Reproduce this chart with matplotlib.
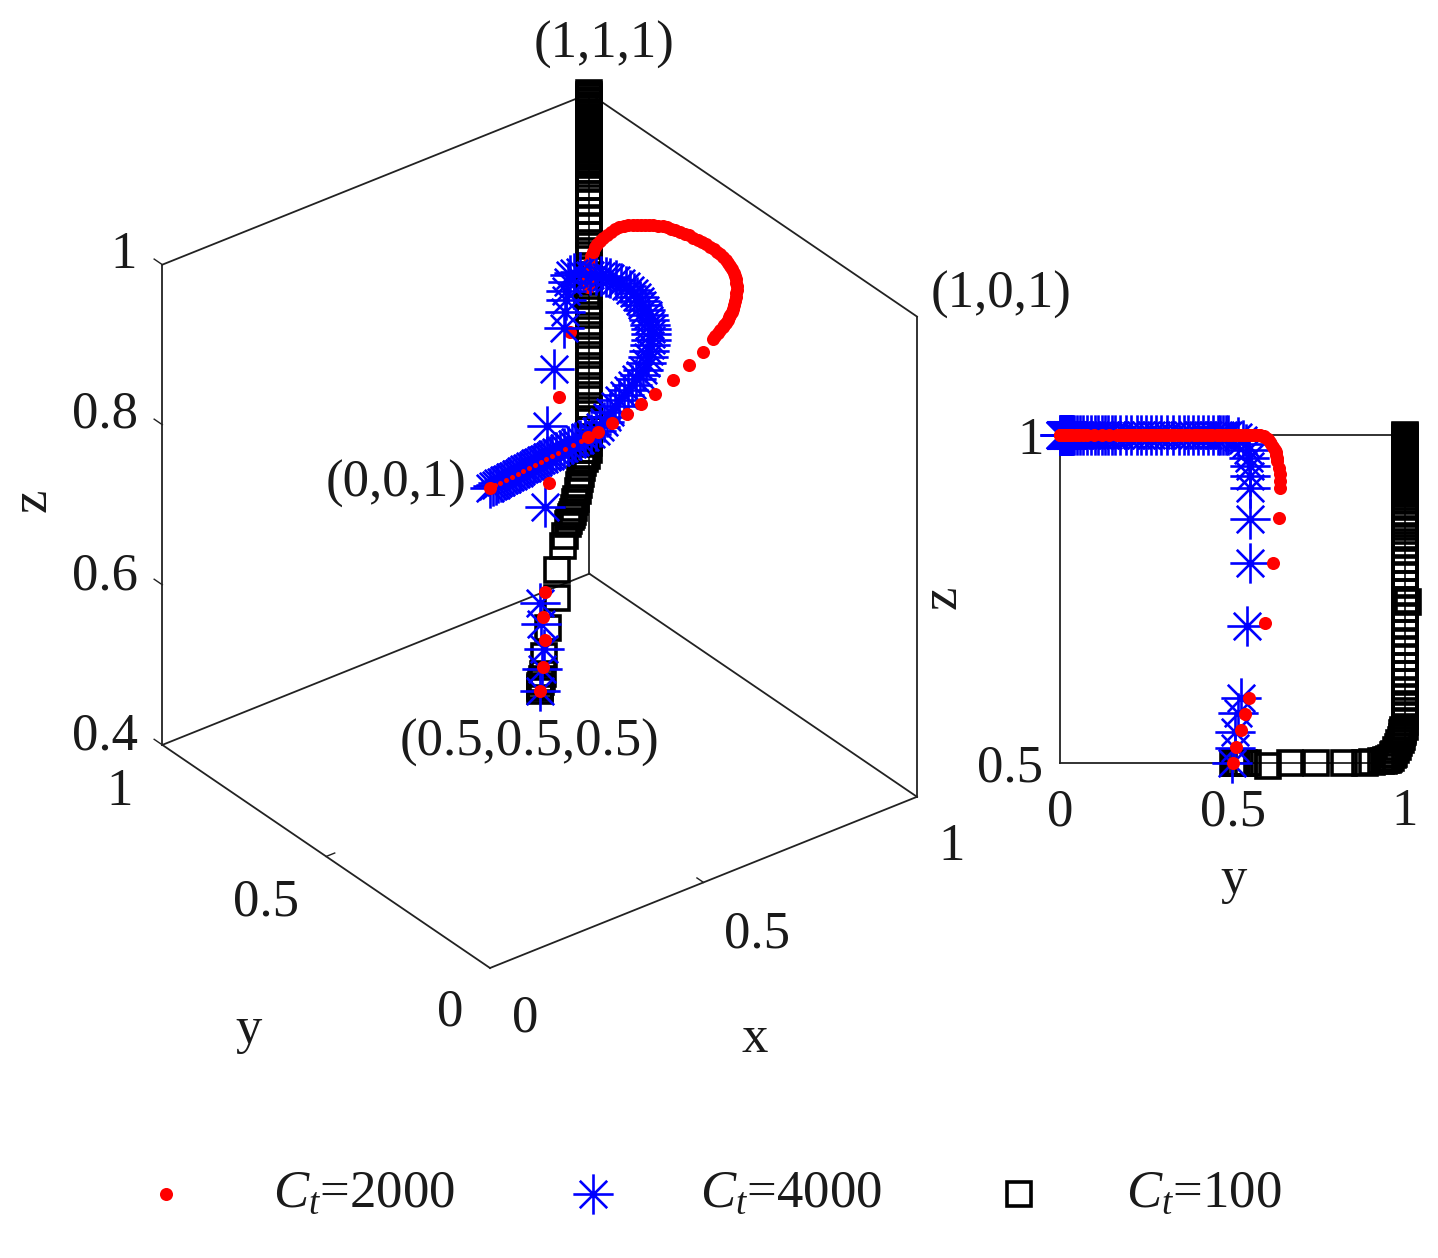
import matplotlib
matplotlib.use("Agg")
import matplotlib.pyplot as plt
from matplotlib.path import Path

from mpl_toolkits.mplot3d import proj3d

plt.rcParams['font.family'] = ['Liberation Serif', 'DejaVu Serif']
plt.rcParams['mathtext.fontset'] = 'custom'
plt.rcParams['mathtext.rm'] = 'Liberation Serif'
plt.rcParams['mathtext.it'] = 'Liberation Serif:italic'

W, H = 1438, 1258
FS = 38

# (x, y, z) read from the two views
red_xyz = [
    (.500,.500,.500),(.515,.510,.524),(.532,.525,.550),(.535,.536,.575),(.550,.548,.599),
    (.595,.594,.713),(.636,.617,.805),(.675,.635,.873),(.720,.638,.919),(.718,.638,.930),
    (.718,.637,.940),(.719,.635,.950),(.720,.630,.960),(.724,.628,.965),(.727,.627,.970),
    (.731,.625,.974),(.735,.623,.977),(.740,.618,.982),(.745,.613,.986),(.750,.608,.990),
    (.755,.603,.994),(.761,.598,.996),(.768,.592,.998),(.774,.586,.999),(.780,.580,1.0),
    (.786,.576,1.0),(.792,.572,1.0),(.798,.567,1.0),(.803,.562,1.0),(.809,.556,1.0),
    (.815,.549,1.0),(.820,.542,1.0),(.825,.534,1.0),(.828,.526,1.0),(.831,.517,1.0),
    (.834,.507,1.0),(.837,.497,1.0),(.839,.487,1.0),(.841,.476,1.0),(.843,.465,1.0),
    (.844,.454,1.0),(.845,.442,1.0),(.846,.431,1.0),(.846,.420,1.0),(.846,.409,1.0),
    (.844,.398,1.0),(.842,.387,1.0),(.840,.375,1.0),(.837,.364,1.0),(.834,.353,1.0),
    (.830,.342,1.0),(.825,.331,1.0),(.820,.321,1.0),(.814,.310,1.0),(.807,.300,1.0),
    (.800,.290,1.0),(.793,.280,1.0),(.784,.270,1.0),(.775,.260,1.0),(.766,.250,1.0),
    (.756,.240,1.0),(.746,.230,1.0),(.736,.221,1.0),(.728,.215,1.0),(.721,.210,1.0),
    (.713,.204,1.0),(.705,.199,1.0),(.698,.194,1.0),(.690,.189,1.0),(.680,.184,1.0),
    (.670,.178,1.0),(.660,.172,1.0),(.650,.166,1.0),(.609,.143,1.0),(.560,.122,1.0),
    (.504,.098,1.0),(.447,.079,1.0),(.405,.066,1.0),(.362,.054,1.0),(.321,.045,1.0),
    (.280,.036,1.0),(.255,.033,1.0),
]
red_tail_xyz = [
    (.235,.030,1.0),(.215,.027,1.0),(.195,.024,1.0),(.175,.021,1.0),(.160,.019,1.0),
    (.145,.017,1.0),(.130,.015,1.0),(.115,.013,1.0),(.100,.011,1.0),(.085,.009,1.0),
    (.070,.007,1.0),(.055,.005,1.0),(.040,.003,1.0),(.025,.002,1.0),(.012,.001,1.0),
]
red_end_xyz = [(0.0,0.0,1.0)]

blue_xyz = [
    (.500,.499,.500),(.510,.507,.523),(.515,.507,.547),(.515,.516,.576),(.520,.525,.599),
    (.544,.542,.709),(.556,.551,.805),(.573,.551,.872),(.596,.551,.919),(.598,.551,.9375),
    (.600,.551,.953),(.600,.549,.965),(.600,.545,.977),(.602,.540,.986),(.604,.530,.992),
    (.606,.515,.997),(.609,.488,1.0),(.616,.480,1.0),(.622,.472,1.0),(.628,.465,1.0),
    (.632,.457,1.0),(.635,.444,1.0),(.636,.430,1.0),(.636,.415,1.0),(.635,.401,1.0),
    (.633,.386,1.0),(.630,.372,1.0),(.626,.358,1.0),(.621,.344,1.0),(.615,.327,1.0),
    (.607,.310,1.0),(.598,.294,1.0),(.589,.279,1.0),(.580,.265,1.0),(.570,.250,1.0),
    (.558,.236,1.0),(.546,.223,1.0),(.531,.206,1.0),(.516,.190,1.0),(.499,.175,1.0),
    (.482,.160,1.0),(.466,.150,1.0),(.450,.140,1.0),(.433,.130,1.0),(.415,.121,1.0),
    (.398,.110,1.0),(.380,.100,1.0),(.361,.089,1.0),(.342,.078,1.0),(.326,.067,1.0),
    (.310,.057,1.0),(.295,.048,1.0),(.280,.040,1.0),(.265,.038,1.0),(.250,.036,1.0),
    (.237,.034,1.0),(.225,.033,1.0),(.215,.031,1.0),(.205,.030,1.0),(.195,.029,1.0),
    (.185,.028,1.0),(.175,.026,1.0),(.165,.025,1.0),(.157,.023,1.0),(.150,.022,1.0),
    (.142,.021,1.0),(.135,.020,1.0),(.127,.019,1.0),(.120,.018,1.0),(.112,.016,1.0),
    (.105,.015,1.0),(.097,.014,1.0),(.090,.013,1.0),(.082,.011,1.0),(.075,.010,1.0),
    (.067,.009,1.0),(.060,.008,1.0),(.052,.007,1.0),(.045,.006,1.0),(.037,.005,1.0),
    (.030,.004,1.0),(.022,.003,1.0),(.015,.002,1.0),(.007,.001,1.0),(0.0,0.0,1.0),
]

black_xyz = [
    (.500,.500,.500),(.505,.507,.500),(.512,.514,.500),(.520,.522,.500),(.530,.532,.500),
    (.542,.545,.500),(.590,.604,.495),(.649,.668,.500),(.727,.743,.500),(.788,.822,.500),
    (.849,.883,.500),(.869,.903,.502),(.897,.931,.503),(.905,.938,.503),(.915,.945,.504),
    (.920,.950,.505),(.925,.953,.506),(.933,.960,.508),(.940,.965,.512),(.945,.968,.514),
    (.955,.975,.520),(.960,.980,.525),(.965,.983,.530),(.970,.987,.535),(.975,.990,.540),
    (.980,.992,.545),(.985,.994,.548),(.990,.995,.550),
    (1.0,1.0,.555),(1.0,1.0,.563),(1.0,1.0,.571),(1.0,1.0,.580),(1.0,1.0,.590),
    (1.0,1.0,.600),(1.0,1.0,.610),(1.0,1.0,.623),(1.0,1.0,.635),(1.0,1.0,.648),
    (1.0,1.0,.660),(1.0,1.0,.673),(1.0,1.0,.685),(1.0,1.0,.698),(1.0,1.0,.710),
    (1.0,1.0,.723),(1.0,1.0,.735),(1.0,1.008,.745),(1.0,1.0,.748),(1.0,1.0,.760),
    (1.0,1.0,.773),(1.0,1.0,.785),(1.0,1.0,.798),(1.0,1.0,.810),(1.0,1.0,.823),
    (1.0,1.0,.833),(1.0,1.0,.843),(1.0,1.0,.853),(1.0,1.0,.865),(1.0,1.0,.874),
    (1.0,1.0,.883),(1.0,1.0,.893),(1.0,1.0,.899),(1.0,1.0,.905),(1.0,1.0,.911),
    (1.0,1.0,.914),(1.0,1.0,.917),(1.0,1.0,.920),(1.0,1.0,.923),(1.0,1.0,.926),
    (1.0,1.0,.929),(1.0,1.0,.932),(1.0,1.0,.935),(1.0,1.0,.938),(1.0,1.0,.941),
    (1.0,1.0,.944),(1.0,1.0,.947),(1.0,1.0,.950),(1.0,1.0,.953),(1.0,1.0,.956),
    (1.0,1.0,.959),(1.0,1.0,.962),(1.0,1.0,.965),(1.0,1.0,.968),(1.0,1.0,.971),
    (1.0,1.0,.974),(1.0,1.0,.977),(1.0,1.0,.980),(1.0,1.0,.983),(1.0,1.0,.986),
    (1.0,1.0,.989),(1.0,1.0,.992),(1.0,1.0,.995),(1.0,1.0,.998),(1.0,1.0,1.0),
]

series_labels = ['$C_t$=2000', '$C_t$=4000', '$C_t$=100']
xy_ticks = [0, 0.5, 1]
z_ticks = [0.4, 0.6, 0.8, 1]
side_y_ticks = [0, 0.5, 1]
side_z_ticks = [0.5, 1]


def cols(points):
    return [p[0] for p in points], [p[1] for p in points], [p[2] for p in points]


star_path = Path(
    [(-1, 0), (1, 0), (0, -1), (0, 1), (-.68, -.68), (.68, .68), (-.68, .68), (.68, -.68)],
    [Path.MOVETO, Path.LINETO] * 4)

red_style = dict(linestyle='none', marker='o', color='#ff0000', markersize=9.4,
                 markeredgewidth=0, clip_on=False)
blue_style = dict(linestyle='none', marker=star_path, markersize=29, markerfacecolor='none',
                  markeredgecolor='#0000ff', markeredgewidth=1.9, clip_on=False)
black_style = dict(linestyle='none', marker='s', markersize=17.5, markerfacecolor='none',
                   markeredgecolor='black', markeredgewidth=2.6, clip_on=False)

fig = plt.figure(figsize=(W / 100, H / 100), dpi=100, facecolor='white')


def label(px, py, s, **kw):
    kw.setdefault('ha', 'center')
    kw.setdefault('va', 'center')
    kw.setdefault('fontsize', FS)
    kw.setdefault('color', '#1a1a1a')
    fig.text(px / W, 1 - py / H, s, **kw)


# ---------- 3D view ----------
ax = fig.add_axes([0, 0, 1, 1], projection='3d', proj_type='ortho', computed_zorder=False)
ax.set_xlim(0, 1, view_margin=0)
ax.set_ylim(0, 1, view_margin=0)
ax.set_zlim(0.4, 1, view_margin=0)
ax.view_init(elev=31.5, azim=-127.5)
ax.set_box_aspect((538, 538, 563))
ax.set_axis_off()

box_edges = [
    ((0, 1, .4), (0, 1, 1)), ((1, 0, .4), (1, 0, 1)), ((1, 1, .4), (1, 1, 1)),
    ((0, 1, 1), (1, 1, 1)), ((1, 1, 1), (1, 0, 1)),
    ((0, 1, .4), (1, 1, .4)), ((1, 1, .4), (1, 0, .4)),
    ((0, 1, .4), (0, 0, .4)), ((0, 0, .4), (1, 0, .4)),
]
for a, b in box_edges:
    ax.plot(*cols([a, b]), color='#222222', lw=1.3, zorder=1, clip_on=False)
for t in z_ticks:
    ax.plot([0, 0], [1, 1.025], [t, t], color='#222222', lw=1.0, zorder=1, clip_on=False)
for t in xy_ticks[1:-1]:
    ax.plot([t, t], [0, 0.02], [.4, .4], color='#222222', lw=1.0, zorder=1, clip_on=False)
    ax.plot([0, 0.02], [t, t], [.4, .4], color='#222222', lw=1.0, zorder=1, clip_on=False)

# the stretch of the red path seen behind the blue band in this view
red_behind = [p for p in red_xyz if .85 < p[2] < .965]
red_front = [p for p in red_xyz if not .85 < p[2] < .965]

ax.plot(*cols(black_xyz), zorder=2, **black_style)
ax.plot(*cols(red_behind), zorder=2.5, **red_style)
ax.plot(*cols(blue_xyz), zorder=3, **blue_style)
ax.plot(*cols(red_front), zorder=4, **red_style)
ax.plot(*cols(red_tail_xyz), zorder=4, **{**red_style, 'markersize': 3.6})
ax.plot(*cols(red_end_xyz), zorder=4, **red_style)

# place the axes so that the projected box lands where the reference has it
M = ax.get_proj()
x0, y0, _ = proj3d.proj_transform(0, 0, .4, M)
x1, y1, _ = proj3d.proj_transform(1, 0, .4, M)
f0x, f0y = ax.transLimits.transform((x0, y0))
f1x, f1y = ax.transLimits.transform((x1, y1))
S = 427 / (f1x - f0x)
cx = 490 - (f0x - 0.5) * S
cy = 968 + (f0y - 0.5) * S
ax.set_position([(cx - S / 2) / W, (H - (cy + S / 2)) / H, S / W, S / H])

label(604, 45, '(1,1,1)')
label(1001, 295, '(1,0,1)')
label(396, 484, '(0,0,1)')
label(530, 743, '(0.5,0.5,0.5)')
label(33, 500, 'z', rotation=90)
label(249, 1030, 'y')
label(755, 1039, 'x')
label(124, 255, '1')
label(105, 415, '0.8')
label(105, 577, '0.6')
label(105, 737, '0.4')
label(120, 792, '1')
label(266, 903, '0.5')
label(450, 1013, '0')
label(525, 1019, '0')
label(757, 934, '0.5')
label(952, 847, '1')

# ---------- side view ----------
ax2 = fig.add_axes([1060 / W, (H - 763) / H, 345 / W, 328 / H])
ax2.set_xlim(0, 1)
ax2.set_ylim(0.5, 1)
ax2.set_facecolor('none')
for s in ax2.spines.values():
    s.set_linewidth(1.3)
    s.set_color('#222222')
ax2.set_xticks(side_y_ticks, ['0', '0.5', '1'])
ax2.set_yticks(side_z_ticks, ['0.5', '1'])
ax2.tick_params(length=0, labelsize=FS, colors='#1a1a1a')
ax2.tick_params(axis='x', pad=18)
ax2.tick_params(axis='y', pad=12)
ax2.set_xlabel('y', fontsize=FS, color='#1a1a1a', va='center')
ax2.set_ylabel('z', fontsize=FS, color='#1a1a1a', va='center')
ax2.xaxis.set_label_coords((1234 - 1060) / 345, (763 - 880) / 328)
ax2.yaxis.set_label_coords((943 - 1060) / 345, (763 - 597) / 328)

bx, by, bz = cols(black_xyz)
ux, uy, uz = cols(blue_xyz)
rx, ry, rz = cols(red_xyz + red_tail_xyz + red_end_xyz)
h_black, = ax2.plot(by, bz, zorder=3, **black_style)
h_blue, = ax2.plot(uy, uz, zorder=4, **blue_style)
h_red, = ax2.plot(ry, rz, zorder=5, **red_style)

# ---------- legend ----------
fig.legend([h_red, h_blue, h_black], series_labels, ncols=3, frameon=False,
           loc='lower left', bbox_to_anchor=(113 / W, (H - 1218) / H),
           borderpad=0, borderaxespad=0, numpoints=1, fontsize=FS,
           handlelength=2, handleheight=0.04, handletextpad=1.03, columnspacing=1.61,
           labelcolor='#1a1a1a')

fig.savefig('out.png', dpi=100, facecolor='white')
